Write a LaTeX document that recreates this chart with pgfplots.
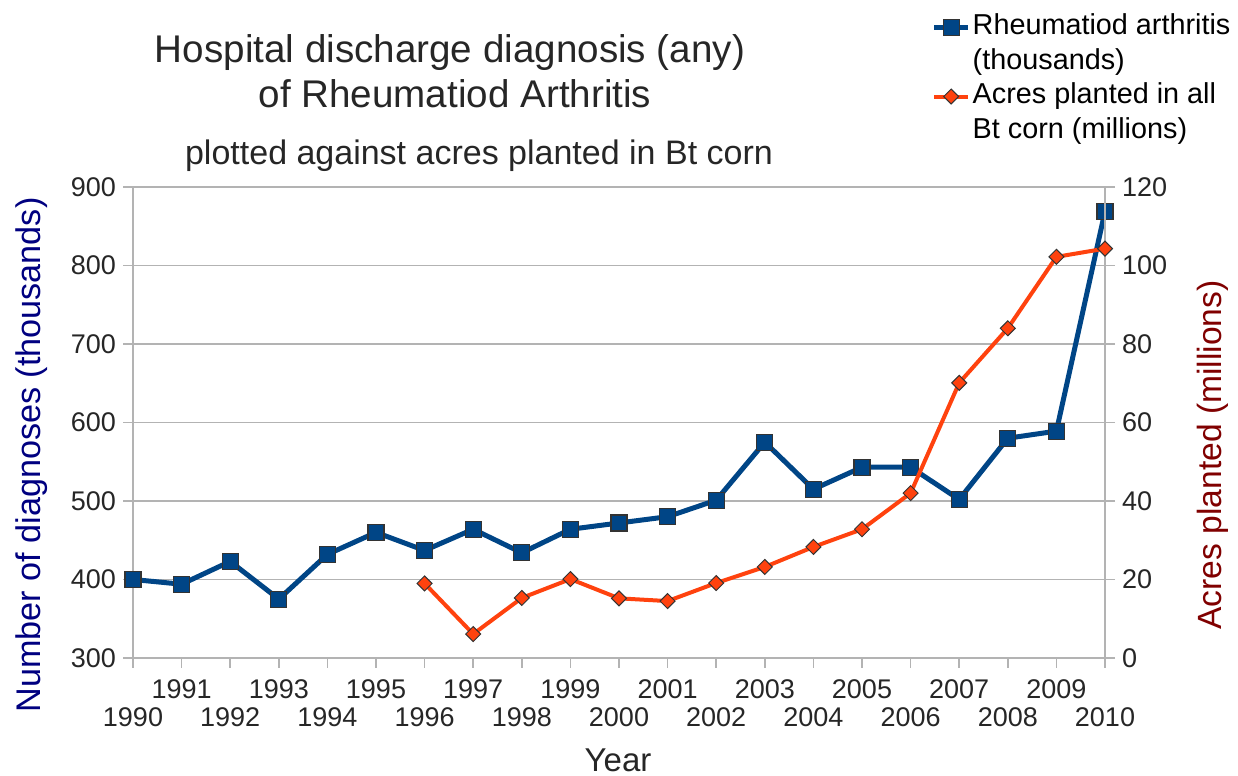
\documentclass[border=0pt]{standalone}
\usepackage{fontspec}
\setmainfont{Liberation Sans}
\usepackage{pgfplots}
\pgfplotsset{compat=1.18}
\definecolor{rablue}{HTML}{004586}
\definecolor{btorange}{HTML}{FF420E}
\definecolor{gridgray}{HTML}{B3B3B3}
\definecolor{labnavy}{HTML}{000080}
\definecolor{labred}{HTML}{800000}
\begin{document}
\begin{tikzpicture}
\path[use as bounding box] (-66.5pt,-59pt) rectangle (552.5pt,329pt);
\pgfplotsset{
 common/.style={
  scale only axis, width=486pt, height=235.5pt,
  at={(0,0)}, anchor=south west,
  xmin=1990, xmax=2010,
  /pgf/number format/assume math mode=true,
  /pgf/number format/1000 sep={},
  tick label style={font=\fontsize{13.5}{16}\selectfont, text=black!85},
  axis line style={draw=gridgray, line width=0.8pt, -},
  tick style={draw=gridgray, line width=0.8pt},
  major tick length=5pt,
  tick align=outside,
  clip=false,
 }
}
\begin{axis}[common,
  axis y line*=left, axis x line*=bottom,
  ymin=300, ymax=900, ytick={300,400,...,900},
  ymajorgrids, grid style={gridgray, line width=0.8pt},
  xtick={1991,1993,...,2009},
  xticklabel style={yshift=-2.5pt},
  extra x ticks={1990,1992,...,2010},
  extra x tick style={tick label style={yshift=-14pt}},
  xlabel={Year},
  xlabel style={at={(axis description cs:0.499,-0.217)}, anchor=center, inner sep=0pt, font=\fontsize{16.5}{19}\selectfont, text=black!85},
  ylabel={Number of diagnoses (thousands)},
  ylabel style={at={(axis description cs:-0.104,0.431)}, anchor=center, font=\fontsize{17.1}{19}\selectfont, text=labnavy},
]
\addplot[rablue, line width=2.5pt, mark=square*, mark size=4pt,
  mark options={fill=rablue, draw=black!80, line width=0.6pt}]
coordinates {
(1990,400) (1991,394) (1992,423) (1993,375) (1994,432) (1995,460) (1996,437)
(1997,464) (1998,434) (1999,464) (2000,472) (2001,480) (2002,501) (2003,575)
(2004,515) (2005,543) (2006,543) (2007,502) (2008,580) (2009,589) (2010,869)
};
\end{axis}
\begin{axis}[common,
  axis y line*=right, axis x line=none,
  ymin=0, ymax=120, ytick={0,20,...,120},
  ylabel={Acres planted (millions)},
  ylabel style={at={(axis description cs:1.111,0.431)}, anchor=center, font=\fontsize{16.8}{19}\selectfont, text=labred},
  legend cell align=left,
  legend style={draw=none, fill=none, at={(axis description cs:0.815,1.381)}, anchor=north west,
    font=\fontsize{14.4}{16.5}\selectfont, row sep=1.4pt, column sep=0pt,
    nodes={inner sep=1pt, text height=10.5pt, text depth=3.3pt}},
]
\addlegendimage{rablue, line width=2.5pt, mark=square*, mark size=4pt,
  mark options={fill=rablue, draw=black!80, line width=0.6pt}}
\addlegendentry{Rheumatiod arthritis}
\addlegendimage{empty legend}
\addlegendentry{(thousands)}
\addplot[btorange, line width=2pt, mark=square*, mark size=2.65pt,
  mark options={fill=btorange, draw=black!80, line width=0.5pt, rotate=45}]
coordinates {
(1996,19) (1997,6.1) (1998,15.3) (1999,20.1) (2000,15.2) (2001,14.5) (2002,19.1)
(2003,23.2) (2004,28.3) (2005,32.8) (2006,42) (2007,70.1) (2008,84) (2009,102.2) (2010,104.3)
};
\addlegendentry{Acres planted in all}
\addlegendimage{empty legend}
\addlegendentry{Bt corn (millions)}
\end{axis}
\node[anchor=base, font=\fontsize{19.3}{22}\selectfont, text=black!85] at (158.5pt,297.5pt) {Hospital discharge diagnosis (any)};
\node[anchor=base, font=\fontsize{19.3}{22}\selectfont, text=black!85] at (161pt,275pt) {of Rheumatiod Arthritis};
\node[anchor=base, font=\fontsize{17}{20}\selectfont, text=black!85] at (173pt,246.5pt) {plotted against acres planted in Bt corn};
\end{tikzpicture}
\end{document}
